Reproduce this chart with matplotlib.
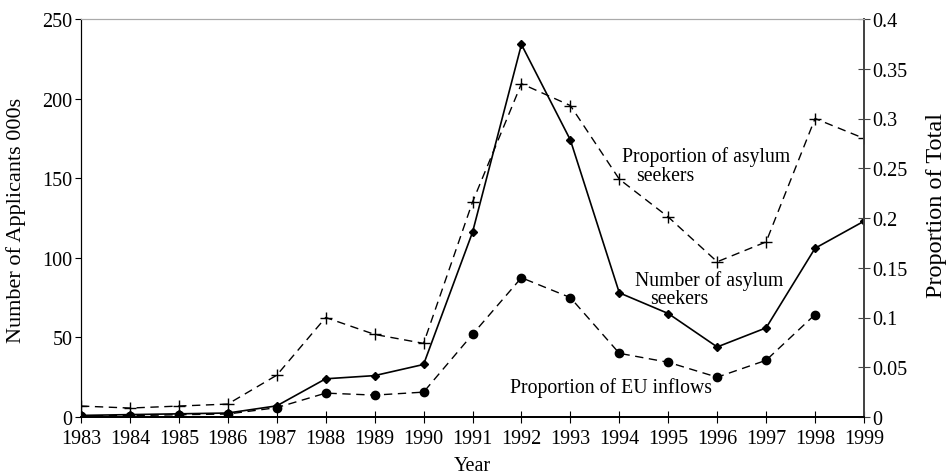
import matplotlib
matplotlib.use("Agg")
import matplotlib.pyplot as plt

plt.rcParams['font.family'] = ['Liberation Serif', 'DejaVu Serif']

years = list(range(1983, 2000))
num_asylum = [1, 1.5, 2, 2.5, 7, 24, 26, 33, 116, 234, 174, 78, 65, 44, 56, 106, 123]
prop_asylum = [0.011, 0.009, 0.011, 0.013, 0.042, 0.100, 0.083, 0.074, 0.216, 0.335,
               0.313, 0.239, 0.201, 0.156, 0.176, 0.300, 0.280]
eu_years = list(range(1983, 1999))
prop_eu = [0.0013, 0.0013, 0.0023, 0.003, 0.0094, 0.024, 0.022, 0.025, 0.083, 0.140,
           0.120, 0.064, 0.055, 0.040, 0.057, 0.103]

W, H = 947, 477
fig = plt.figure(figsize=(W / 100, H / 100), dpi=100)
ax = fig.add_axes([81 / W, 1 - 418 / H, (864 - 81) / W, (418 - 20) / H])
ax2 = ax.twinx()

ax.plot(years, num_asylum, color='black', lw=1.2, marker='D', ms=4.5, zorder=3)
ax2.plot(years, prop_asylum, color='black', lw=1.0, ls=(0, (6, 4)), marker='+', ms=8, mew=1.0)
ax2.plot(eu_years, prop_eu, color='black', lw=1.0, ls=(0, (6, 4)), marker='o', ms=6)

ax.set_xlim(1983, 1999)
ax.set_ylim(0, 250)
ax2.set_ylim(0, 0.4)
ax.set_xticks(years)
ax.set_yticks([0, 50, 100, 150, 200, 250])
ax2.set_yticks([0, 0.05, 0.1, 0.15, 0.2, 0.25, 0.3, 0.35, 0.4])
ax2.set_yticklabels(['0', '0.05', '0.1', '0.15', '0.2', '0.25', '0.3', '0.35', '0.4'])

fs = 14.5
ax.tick_params(axis='x', direction='inout', length=8, labelsize=fs, pad=5)
ax.tick_params(axis='y', direction='out', length=4, labelsize=fs, pad=2)
ax2.tick_params(axis='y', direction='inout', length=8, labelsize=fs, pad=2, color='#444444')

for a in (ax, ax2):
    a.spines['top'].set_color('#aaaaaa')
    a.spines['right'].set_color('#444444')
    a.spines['left'].set_color('black')
    a.spines['bottom'].set_color('black')
    a.spines['right'].set_linewidth(1.3)
    a.spines['bottom'].set_linewidth(1.3)


def px(x, y):
    return x / W, 1 - y / H


fig.text(*px(472, 467), 'Year', fontsize=fs, ha='center', va='center')
fig.text(*px(16, 220), 'Number of Applicants 000s', fontsize=16, ha='center', va='center',
         rotation=90)
fig.text(*px(936, 205), 'Proportion of Total', fontsize=17.5, ha='center', va='center',
         rotation=90)

afs = 14.2
fig.text(*px(706, 157), 'Proportion of asylum', fontsize=afs, ha='center', va='center')
fig.text(*px(665, 177), 'seekers', fontsize=afs, ha='center', va='center')
fig.text(*px(709, 281), 'Number of asylum', fontsize=afs, ha='center', va='center')
fig.text(*px(679, 300), 'seekers', fontsize=afs, ha='center', va='center')
fig.text(*px(611, 388), 'Proportion of EU inflows', fontsize=afs, ha='center', va='center')

fig.savefig('out.png', dpi=100)
